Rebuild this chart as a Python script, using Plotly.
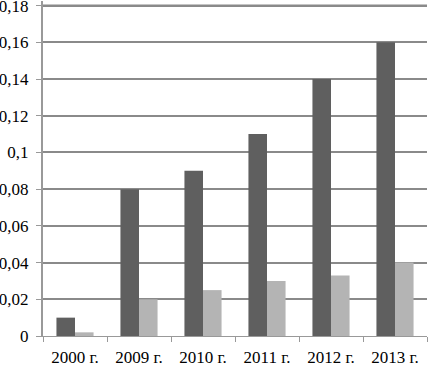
import plotly.graph_objects as go

categories = ["2000 г.", "2009 г.", "2010 г.", "2011 г.", "2012 г.", "2013 г."]
series_dark = [0.01, 0.08, 0.09, 0.11, 0.14, 0.16]
series_light = [0.002, 0.02, 0.025, 0.03, 0.033, 0.04]
y_ticks = [0, 0.02, 0.04, 0.06, 0.08, 0.1, 0.12, 0.14, 0.16, 0.18]

fig = go.Figure()
fig.add_trace(go.Bar(x=categories, y=series_dark, marker=dict(color="#5f5f5f", line_width=0)))
fig.add_trace(go.Bar(x=categories, y=series_light, marker=dict(color="#b4b4b4", line_width=0)))

# top gridline (plotly drops the gridline at the axis end)
fig.add_hline(y=y_ticks[-1], line=dict(color="#8a8a8a", width=2), layer="below")

fig.update_layout(
    width=428, height=368,
    margin=dict(l=43, r=1, t=1, b=32, autoexpand=False),
    paper_bgcolor="white", plot_bgcolor="white",
    showlegend=False,
    barmode="group", bargap=0.42, bargroupgap=0,
    separators=", ",
    font=dict(family="Liberation Serif, Times New Roman, serif", size=17, color="black"),
)
fig.update_xaxes(
    type="category", tickson="boundaries", ticks="outside", ticklen=5,
    tickcolor="#999999", showline=True, linecolor="#999999", linewidth=1,
    showgrid=False, automargin=False, ticklabelstandoff=6,
)
fig.update_yaxes(
    range=[0, 0.1825], tickvals=y_ticks, showgrid=True, gridcolor="#8a8a8a", gridwidth=2,
    showline=True, linecolor="#999999", linewidth=2, ticks="outside", ticklen=5,
    tickcolor="#999999", zeroline=False, automargin=False,
    ticklabeloverflow="allow", ticklabelstandoff=4,
)
fig.write_html(
    "out.html",
    config={"displayModeBar": False},
    post_script="document.body.style.margin='0';document.body.style.padding='0';",
)
